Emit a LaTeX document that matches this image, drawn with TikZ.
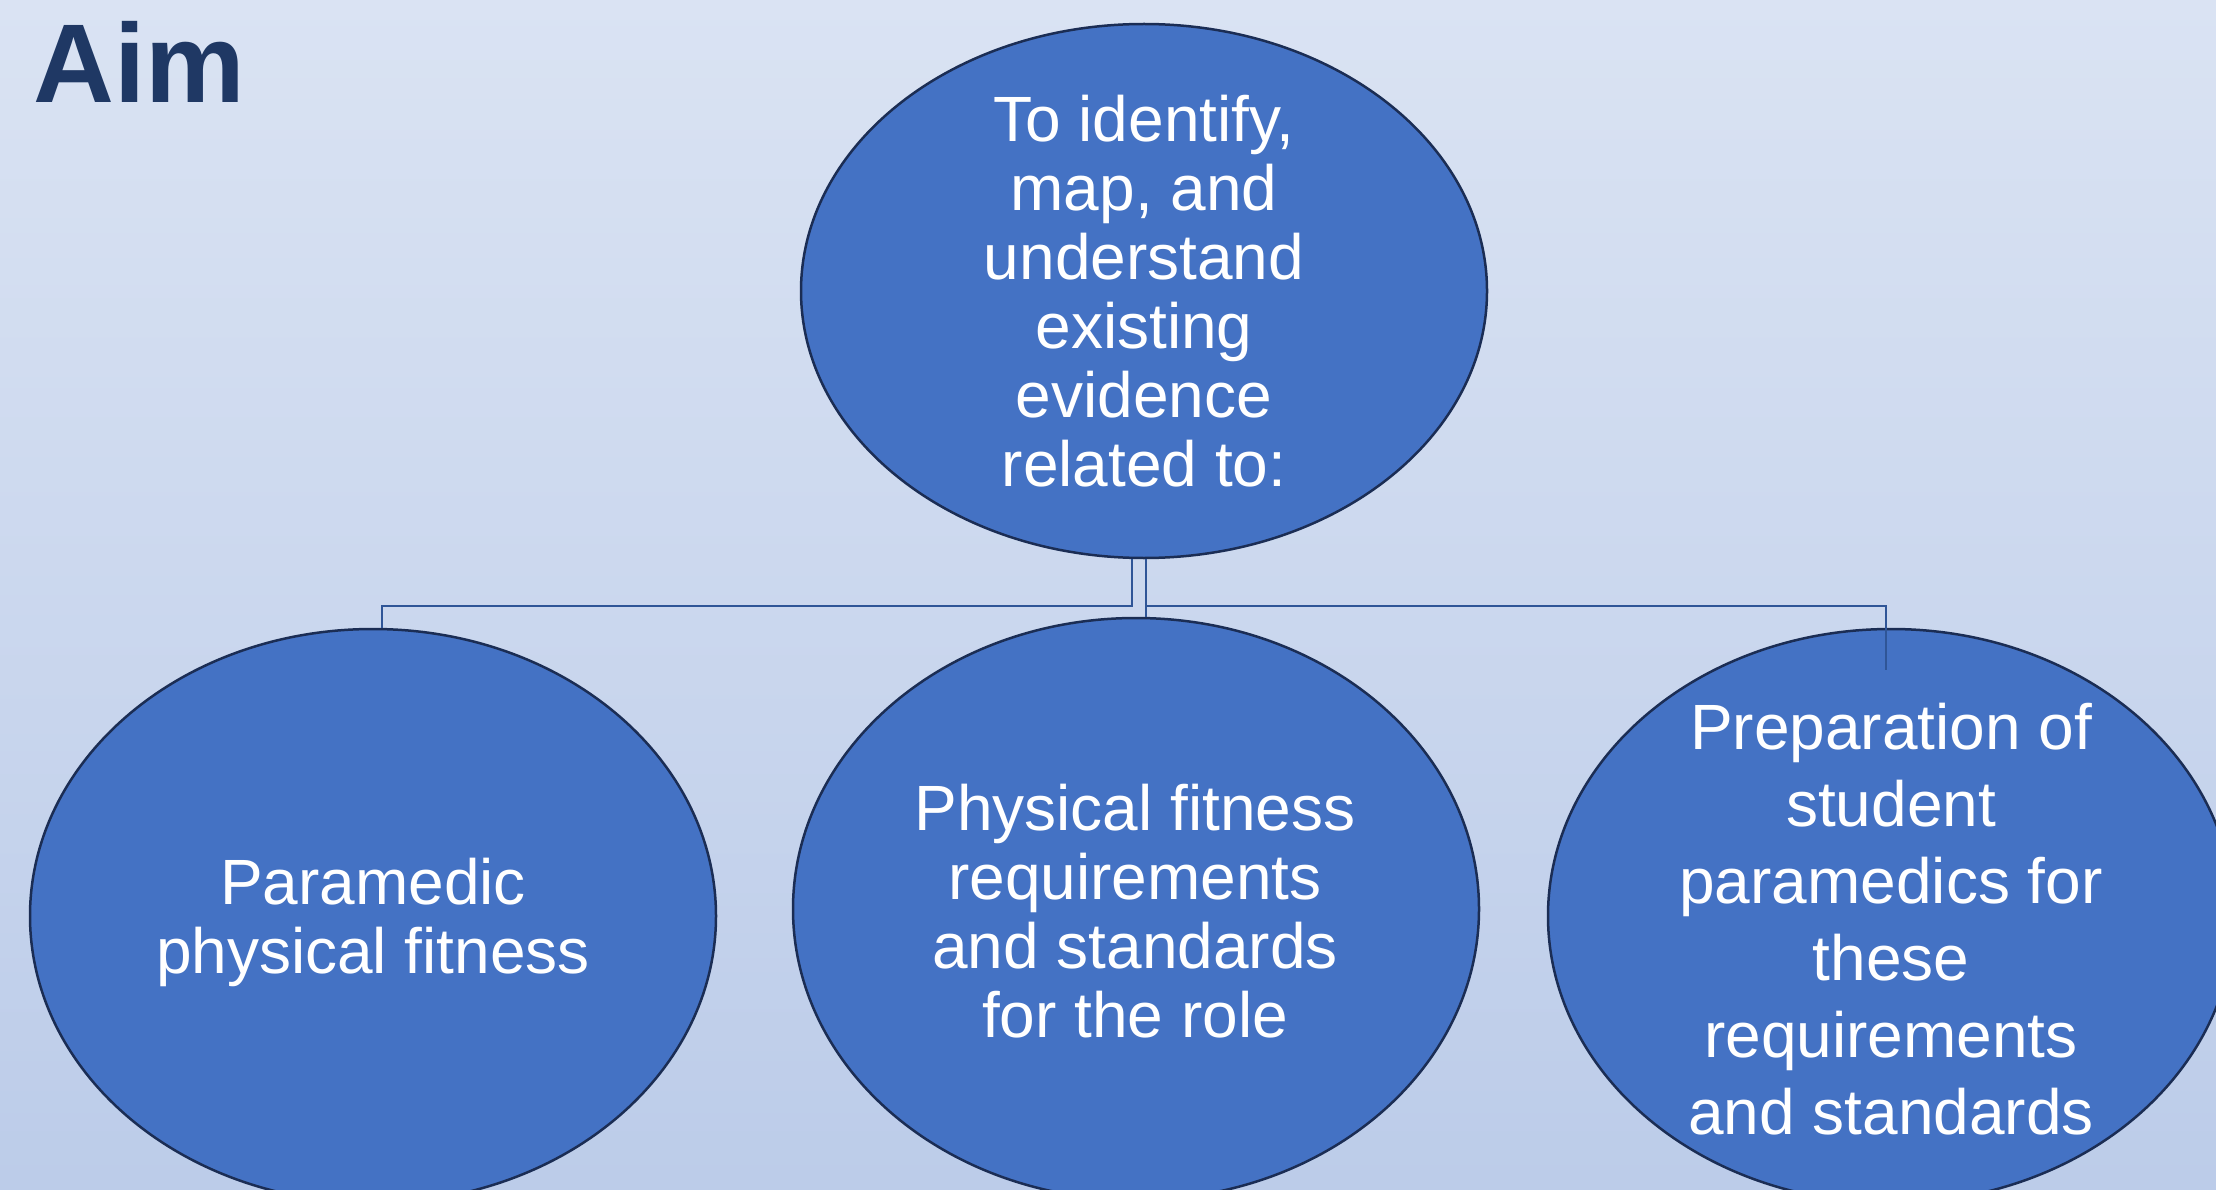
\documentclass[tikz,border=0pt]{standalone}
\usepackage{fontspec}
\setmainfont{Liberation Sans}
\usetikzlibrary{shapes.geometric,calc}

\definecolor{bgtop}{RGB}{218,227,243}
\definecolor{bgbot}{RGB}{188,204,233}
\definecolor{bubblefill}{RGB}{68,114,196}
\definecolor{bubbleedge}{RGB}{27,45,84}
\definecolor{linkcol}{RGB}{47,85,151}
\definecolor{titlecol}{RGB}{31,56,100}

\tikzset{
  bubble/.style={ellipse, draw=bubbleedge, fill=bubblefill, line width=2.5pt,
                 inner sep=0pt, minimum width=686pt},
  bubbletext/.style={text=white, align=center, inner sep=0pt,
                     font=\fontsize{64}{69}\selectfont},
  link/.style={draw=linkcol, line width=2.6pt},
}

\begin{document}
\begin{tikzpicture}[x=1pt,y=-1pt]
  \useasboundingbox (0,0) rectangle (2216,1190);
  \clip (0,0) rectangle (2216,1190);
  \fill[top color=bgtop, bottom color=bgbot] (0,0) rectangle (2216,1190);

  % title
  \node[anchor=base west, inner sep=0pt, text=titlecol,
        font=\fontsize{112}{120}\bfseries\selectfont] (title) at (33,103) {Aim};

  % ellipses
  \node[bubble, minimum height=534pt] (aim)   at (1144,291) {};
  \node[bubble, minimum height=574pt] (left)  at (373,916)  {};
  \node[bubble, minimum height=582pt] (mid)   at (1136,909) {};
  \node[bubble, minimum height=574pt] (right) at (1891,916) {};

  % bus level of the connectors
  \coordinate (bus) at (0,606);

  % connectors
  \draw[link] ([xshift=-12pt]aim.south) -- ([xshift=-12pt]aim.south |- bus)
              -| ([xshift=9pt]left.north);
  \draw[link] ([xshift=2pt]aim.south) -- ([xshift=10pt]mid.north);
  \draw[link] ([xshift=2pt]aim.south |- bus) -| ([xshift=-5pt,yshift=-42pt]right.north);

  % texts
  \node[bubbletext] (aimtxt) at ([yshift=0pt]aim.center)
    {To identify,\\map, and\\understand\\existing\\evidence\\related to:};
  \node[bubbletext] (lefttxt) at ([yshift=-6pt]left.center)
    {Paramedic\\physical fitness};
  \node[bubbletext] (midtxt) at ([yshift=-2pt,xshift=-1pt]mid.center)
    {Physical fitness\\requirements\\and standards\\for the role};
  \node[bubbletext, font=\fontsize{64}{77}\selectfont] (righttxt) at ([yshift=-3pt]right.center)
    {Preparation of\\student\\paramedics for\\these\\requirements\\and standards};
\end{tikzpicture}
\end{document}
